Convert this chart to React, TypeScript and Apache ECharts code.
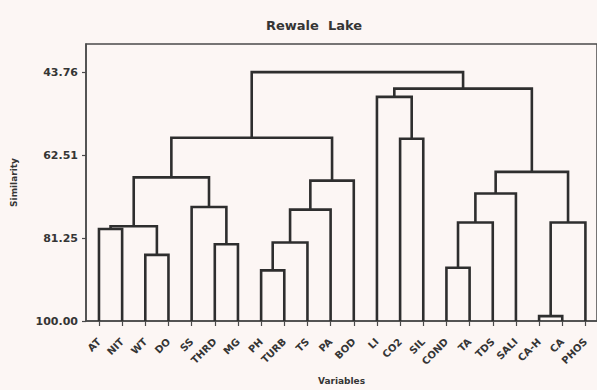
import React, { useEffect, useRef } from "react";
import * as echarts from "echarts";

// Leaves (variables), left to right
const leaves = ["AT", "NIT", "WT", "DO", "SS", "THRD", "MG", "PH", "TURB", "TS", "PA", "BOD", "LI", "CO2", "SIL", "COND", "TA", "TDS", "SALI", "CA-H", "CA", "PHOS"];

// Linkage: merge k creates cluster id (leaves.length + k)
const mergeLeft = [19, 7, 15, 2, 5, 23, 0, 28, 24, 22, 27, 4, 30, 32, 29, 34, 13, 36, 12, 40, 39];
const mergeRight = [20, 8, 16, 3, 6, 9, 1, 25, 17, 21, 10, 26, 18, 11, 33, 31, 14, 35, 38, 37, 41];
const mergeSimilarity = [98.9, 88.55, 87.96, 85.05, 82.65, 82.27, 79.2, 78.6, 77.74, 77.74, 74.83, 74.24, 71.18, 68.27, 67.55, 66.3, 58.8, 58.57, 49.34, 47.48, 43.76];

// Y-axis tick labels
const yTicks = [43.76, 62.51, 81.25, 100.0];

const FONT = "DejaVu Sans";
const TEXT = "#353535";
const LINE = "#2e2e2e";
const AXIS = "#4a4a4a";

function buildLinks() {
  const nx: number[] = leaves.map((_, i) => i);
  const ny: number[] = leaves.map(() => 100);
  const links: number[][] = [];
  for (let k = 0; k < mergeLeft.length; k++) {
    const a = mergeLeft[k];
    const b = mergeRight[k];
    const s = mergeSimilarity[k];
    links.push([nx[a], nx[b], ny[a], ny[b], s]);
    nx.push((nx[a] + nx[b]) / 2);
    ny.push(s);
  }
  return links;
}

export default function App() {
  const ref = useRef<HTMLDivElement>(null);
  useEffect(() => {
    if (!ref.current) return;
    const chart = echarts.init(ref.current, null, { renderer: "svg" });
    const links = buildLinks();
    const leafIdx = leaves.map((_, i) => i);
    chart.setOption({
      animation: false,
      backgroundColor: "#fcf6f4",
      title: {
        text: "Rewale  Lake",
        left: 309,
        textAlign: "center",
        top: 14,
        textStyle: { fontFamily: FONT, fontSize: 13, fontWeight: "bold", color: TEXT },
      },
      grid: {
        left: 86,
        right: -2,
        top: 44,
        bottom: 60,
        show: true,
        borderColor: AXIS,
        borderWidth: 1.5,
        backgroundColor: "transparent",
      },
      xAxis: {
        type: "value",
        min: -0.56,
        max: 21.5,
        name: "Variables",
        nameLocation: "middle",
        nameGap: 55,
        nameTextStyle: { fontFamily: FONT, fontSize: 9, fontWeight: "bold", color: TEXT },
        splitLine: { show: false },
        axisLine: { show: true, onZero: false, lineStyle: { color: AXIS, width: 1.5 } },
        axisTick: { show: true, length: 5, customValues: leafIdx, lineStyle: { color: AXIS, width: 1.2 } },
        axisLabel: {
          customValues: leafIdx,
          rotate: 45,
          margin: 19,
          fontFamily: FONT,
          fontSize: 10,
          fontWeight: "bold",
          color: TEXT,
          formatter: (v: number) => leaves[Math.round(v)] ?? "",
        },
      },
      yAxis: {
        type: "value",
        inverse: true,
        min: 37.4,
        max: 100,
        name: "Similarity",
        nameLocation: "middle",
        nameGap: 68,
        nameRotate: 90,
        nameTextStyle: { fontFamily: FONT, fontSize: 9, fontWeight: "bold", color: TEXT },
        splitLine: { show: false },
        axisLine: { show: true, onZero: false, lineStyle: { color: AXIS, width: 1.5 } },
        axisTick: { show: true, length: 4, customValues: yTicks, lineStyle: { color: AXIS, width: 1.2 } },
        axisLabel: {
          customValues: yTicks,
          margin: 8,
          fontFamily: FONT,
          fontSize: 11,
          fontWeight: "bold",
          color: TEXT,
          formatter: (v: number) => v.toFixed(2),
        },
      },
      series: [
        {
          type: "custom",
          data: links,
          encode: { x: [0, 1], y: [2, 3, 4] },
          clip: false,
          renderItem: (params: any, api: any) => {
            const xl = api.value(0);
            const xr = api.value(1);
            const yl = api.value(2);
            const yr = api.value(3);
            const ym = api.value(4);
            const pts = [
              api.coord([xl, yl]),
              api.coord([xl, ym]),
              api.coord([xr, ym]),
              api.coord([xr, yr]),
            ];
            return {
              type: "polyline",
              shape: { points: pts },
              style: { stroke: LINE, lineWidth: 2.6, fill: "none" },
            };
          },
        },
      ],
    });
    return () => chart.dispose();
  }, []);
  return (
    <div
      ref={ref}
      style={{ position: "fixed", left: 0, top: 0, width: 597, height: 390 }}
    />
  );
}
